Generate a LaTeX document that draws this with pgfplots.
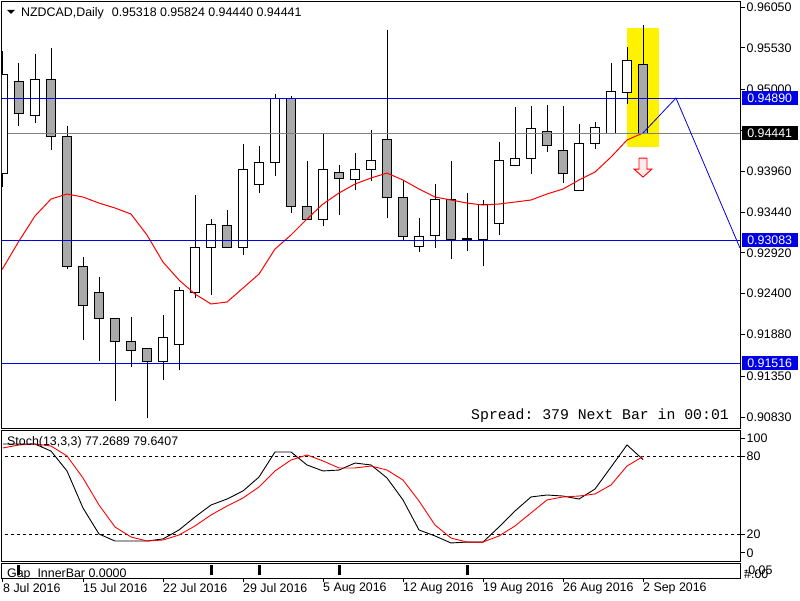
\documentclass[border=0pt]{standalone}
\usepackage{fontspec}
\setmainfont{Liberation Sans}
\setmonofont{Liberation Mono}
\usepackage{pgfplots}
\pgfplotsset{compat=1.18}
\usepgfplotslibrary{statistics}
\definecolor{cgrey}{RGB}{169,169,169}
\definecolor{lblue}{RGB}{0,0,230}
\definecolor{lgrey}{RGB}{128,128,128}
\newcommand{\lf}{\fontsize{12.4}{14}\selectfont}
\pgfplotsset{
  candle/.style={boxplot/draw direction=y, boxplot/box extend=0.6, boxplot/whisker extend=0,
    boxplot/every box/.style={draw=black, fill=#1, line width=1pt},
    boxplot/every whisker/.style={draw=black, line width=1pt},
    boxplot/every median/.style={draw=none}, mark=none, black},
}
% \candle{pos}{fill}{low}{body low}{body high}{high}
\newcommand{\candle}[6]{\addplot[candle=#2, boxplot prepared={draw position=#1, lower whisker=#3, lower quartile=#4, median=#4, upper quartile=#5, upper whisker=#6}] coordinates {};}
\begin{document}
\begin{tikzpicture}[x=1pt,y=1pt]
\useasboundingbox (0,0) rectangle (800,600);
\fill[white] (0,0) rectangle (800,600);

% ---------------- main price pane ----------------
\begin{axis}[at={(2pt,172pt)}, anchor=south west, width=738pt, height=426pt, scale only axis,
  xmin=-0.0625, xmax=46.0625, ymin=0.90690, ymax=0.96114,
  xtick=\empty,
  ytick={0.90830,0.91350,0.91880,0.92400,0.92920,0.93440,0.93960,0.94480,0.95000,0.95530,0.96050},
  yticklabels={0.90830,0.91350,0.91880,0.92400,0.92920,0.93440,0.93960,,0.95000,0.95530,0.96050},
  ytick pos=right, yticklabel pos=right, tick align=outside, major tick length=5pt,
  tick style={black, line width=1pt},
  yticklabel style={font=\lf, inner sep=1.5pt},
  axis line style={line width=1pt}, clip mode=individual]

\addplot[fill=yellow, draw=none] coordinates {(39,0.94267) (41,0.94267) (41,0.95783) (39,0.95783)};

\candle{0}{white}{0.93758}{0.93936}{0.95197}{0.95490}
\candle{1}{cgrey}{0.94535}{0.94688}{0.95108}{0.95337}
\candle{2}{white}{0.94573}{0.94675}{0.95133}{0.95451}
\candle{3}{cgrey}{0.94229}{0.94407}{0.95133}{0.95528}
\candle{4}{cgrey}{0.92714}{0.92740}{0.94407}{0.94535}
\candle{5}{cgrey}{0.91810}{0.92256}{0.92740}{0.92867}
\candle{6}{cgrey}{0.91543}{0.92078}{0.92421}{0.92612}
\candle{7}{cgrey}{0.91034}{0.91785}{0.92078}{0.92090}
\candle{8}{cgrey}{0.91467}{0.91683}{0.91797}{0.92103}
\candle{9}{cgrey}{0.90817}{0.91531}{0.91696}{0.91696}
\candle{10}{white}{0.91301}{0.91531}{0.91836}{0.92128}
\candle{11}{white}{0.91428}{0.91759}{0.92447}{0.92485}
\candle{12}{white}{0.92345}{0.92421}{0.92994}{0.93656}
\candle{13}{white}{0.92383}{0.92982}{0.93287}{0.93351}
\candle{14}{cgrey}{0.92994}{0.92994}{0.93274}{0.93465}
\candle{15}{white}{0.92892}{0.92994}{0.93975}{0.94306}
\candle{16}{white}{0.93682}{0.93796}{0.94076}{0.94280}
\candle{17}{white}{0.93898}{0.94076}{0.94891}{0.94942}
\candle{18}{cgrey}{0.93427}{0.93516}{0.94891}{0.94917}
\candle{19}{cgrey}{0.93351}{0.93351}{0.93516}{0.94089}
\candle{20}{white}{0.93262}{0.93351}{0.93987}{0.94446}
\candle{21}{cgrey}{0.93402}{0.93873}{0.93949}{0.94038}
\candle{22}{white}{0.93720}{0.93860}{0.93987}{0.94191}
\candle{23}{white}{0.93835}{0.93987}{0.94102}{0.94484}
\candle{24}{cgrey}{0.93364}{0.93631}{0.94357}{0.95757}
\candle{25}{cgrey}{0.93083}{0.93134}{0.93631}{0.93835}
\candle{26}{white}{0.92931}{0.93007}{0.93134}{0.93364}
\candle{27}{white}{0.92982}{0.93147}{0.93605}{0.93796}
\candle{28}{cgrey}{0.92841}{0.93096}{0.93605}{0.94089}
\candle{29}{cgrey}{0.92943}{0.93096}{0.93102}{0.93682}
\candle{30}{white}{0.92752}{0.93096}{0.93542}{0.93593}
\candle{31}{white}{0.93147}{0.93300}{0.94102}{0.94331}
\candle{32}{white}{0.94026}{0.94026}{0.94115}{0.94777}
\candle{33}{white}{0.93924}{0.94115}{0.94497}{0.94789}
\candle{34}{cgrey}{0.94204}{0.94293}{0.94471}{0.94802}
\candle{35}{cgrey}{0.93809}{0.93936}{0.94229}{0.94789}
\candle{36}{white}{0.93720}{0.93720}{0.94318}{0.94560}
\candle{37}{white}{0.94242}{0.94318}{0.94522}{0.94586}
\candle{38}{white}{0.94433}{0.94446}{0.94980}{0.95337}
\candle{39}{white}{0.94815}{0.94968}{0.95375}{0.95541}
\candle{40}{cgrey}{0.94440}{0.94441}{0.95318}{0.95824}

% moving average
\addplot[red, line width=1pt, mark=none] coordinates {
(-0.19,0.92676) (0,0.92727) (1,0.93071) (2,0.93389) (3,0.93605) (4,0.93669) (5,0.93631) (6,0.93554) (7,0.93491)
(8,0.93414) (9,0.93147) (10,0.92803) (11,0.92574) (12,0.92396) (13,0.92269) (14,0.92294) (15,0.92472)
(16,0.92650) (17,0.92969) (18,0.93147) (19,0.93351) (20,0.93542) (21,0.93682) (22,0.93796) (23,0.93873)
(24,0.93936) (25,0.93847) (26,0.93733) (27,0.93631) (28,0.93593) (29,0.93554) (30,0.93529) (31,0.93542)
(32,0.93567) (33,0.93593) (34,0.93669) (35,0.93733) (36,0.93847) (37,0.93949) (38,0.94140) (39,0.94357)
(40,0.94446)};

% horizontal levels
\addplot[lblue, line width=1pt, mark=none] coordinates {(-1,0.94890) (47,0.94890)};
\addplot[lgrey, line width=1pt, mark=none] coordinates {(0.3,0.94441) (47,0.94441)};
\addplot[lblue, line width=1pt, mark=none] coordinates {(-1,0.93083) (47,0.93083)};
\addplot[lblue, line width=1pt, mark=none] coordinates {(-1,0.91516) (47,0.91516)};

% projection zigzag
\addplot[lblue, line width=0.8pt, mark=none] coordinates {(40,0.94446) (42.06,0.94891) (46.06,0.92982)};

% down arrow
\addplot[draw=red, fill=red!8, line width=0.9pt, mark=none] coordinates {
(39.75,0.94127) (40.25,0.94127) (40.25,0.93987) (40.5625,0.93987) (40,0.93885)
(39.4375,0.93987) (39.75,0.93987) (39.75,0.94127)};

\coordinate (hA) at (axis cs:46.0625,0.94890);
\coordinate (hB) at (axis cs:46.0625,0.94441);
\coordinate (hC) at (axis cs:46.0625,0.93083);
\coordinate (hD) at (axis cs:46.0625,0.91516);
\end{axis}

\node[fill=lblue, text=white, anchor=west, minimum width=56pt, minimum height=14pt, inner sep=0pt, font=\lf] at ([xshift=1.5pt]hA) {0.94890};
\node[fill=black, text=white, anchor=west, minimum width=56pt, minimum height=14pt, inner sep=0pt, font=\lf] at ([xshift=1.5pt]hB) {0.94441};
\node[fill=lblue, text=white, anchor=west, minimum width=56pt, minimum height=14pt, inner sep=0pt, font=\lf] at ([xshift=1.5pt]hC) {0.93083};
\node[fill=lblue, text=white, anchor=west, minimum width=56pt, minimum height=14pt, inner sep=0pt, font=\lf] at ([xshift=1.5pt]hD) {0.91516};

% title
\fill[black] (7,590) -- (15,590) -- (11,586) -- cycle;
\node[anchor=west, inner sep=0pt, font=\lf] at (21,587) {NZDCAD,Daily\hspace{8pt}0.95318 0.95824 0.94440 0.94441};
\node[anchor=east, inner sep=0pt, font=\ttfamily\fontsize{14.8}{16}\selectfont] at (729,184) {Spread: 379 Next Bar in 00:01};

% ---------------- stochastic pane ----------------
\begin{axis}[at={(2pt,39pt)}, anchor=south west, width=738pt, height=131pt, scale only axis,
  xmin=-0.0625, xmax=46.0625, ymin=-0.77, ymax=100,
  xtick=\empty, ytick={5.4,20,80,93.8}, yticklabels={0,20,80,100},
  ytick pos=right, yticklabel pos=right, tick align=outside, major tick length=5pt,
  tick style={black, line width=1pt},
  yticklabel style={font=\lf, inner sep=1.5pt},
  axis line style={line width=1pt}, clip mode=individual]
\addplot[black, line width=0.8pt, dash pattern=on 3pt off 3pt, mark=none] coordinates {(-1,20) (47,20)};
\addplot[black, line width=0.8pt, dash pattern=on 3pt off 3pt, mark=none] coordinates {(-1,80) (47,80)};
\addplot[black, line width=0.9pt, mark=none] coordinates {
(0,89.2) (1,89.2) (2,89.2) (3,83.8) (4,68.5) (5,40.0) (6,20.0) (7,14.6) (8,14.6) (9,14.6)
(10,16.2) (11,23.1) (12,33.1) (13,42.3) (14,46.9) (15,53.1) (16,63.8) (17,83.1) (18,83.1) (19,73.1)
(20,68.5) (21,69.2) (22,74.6) (23,73.1) (24,63.1) (25,46.2) (26,23.1) (27,18.5) (28,13.1) (29,13.8)
(30,13.8) (31,25.4) (32,37.7) (33,48.5) (34,50.0) (35,49.2) (36,46.9) (37,54.6) (38,71.5) (39,88.5)
(40,77.27)};
\addplot[red, line width=0.9pt, mark=none] coordinates {
(0,86.2) (1,88.5) (2,89.2) (3,87.7) (4,80.0) (5,63.1) (6,42.3) (7,25.4) (8,17.7) (9,14.6)
(10,15.4) (11,19.2) (12,26.2) (13,34.6) (14,41.5) (15,47.7) (16,56.2) (17,68.5) (18,76.9) (19,80.8)
(20,76.2) (21,70.8) (22,70.8) (23,72.3) (24,69.2) (25,61.5) (26,45.4) (27,26.9) (28,16.9) (29,13.8)
(30,13.8) (31,18.5) (32,26.2) (33,36.2) (34,46.2) (35,48.5) (36,49.2) (37,50.8) (38,57.7) (39,72.3)
(40,79.64)};
\end{axis}
\node[anchor=west, inner sep=0pt, font=\lf] at (7,158) {Stoch(13,3,3) 77.2689 79.6407};

% ---------------- gap inner bar pane ----------------
\begin{scope}
\clip (2,22.5) rectangle (740,37);
\node[anchor=west, inner sep=0pt, font=\lf] at (7,25.5) {Gap\_InnerBar 0.0000};
\end{scope}
\node[anchor=west, inner sep=0pt, font=\lf] at (744,30) {-0.05};
\node[anchor=west, inner sep=0pt, font=\lf] at (744,26) {\#.00};
\begin{axis}[at={(2pt,22pt)}, anchor=south west, width=738pt, height=15pt, scale only axis,
  xmin=-0.0625, xmax=46.0625, ymin=-0.3, ymax=1.2,
  ytick=\empty, xtick={0,5,10,15,20,25,30,35,40},
  xticklabels={8 Jul 2016,15 Jul 2016,22 Jul 2016,29 Jul 2016,5 Aug 2016,12 Aug 2016,19 Aug 2016,26 Aug 2016,2 Sep 2016},
  xtick pos=bottom, tick align=outside, major tick length=4pt,
  tick style={black, line width=1pt},
  xticklabel style={font=\lf, anchor=north west, inner sep=1pt, xshift=-1pt},
  axis line style={line width=1pt}, unbounded coords=jump]
\addplot[black, line width=3pt, mark=none] coordinates {
(1,0) (1,1) (1,nan) (13,0) (13,1) (13,nan) (16,0) (16,1) (16,nan) (21,0) (21,1) (21,nan) (29,0) (29,1)};
\end{axis}
\end{tikzpicture}
\end{document}
